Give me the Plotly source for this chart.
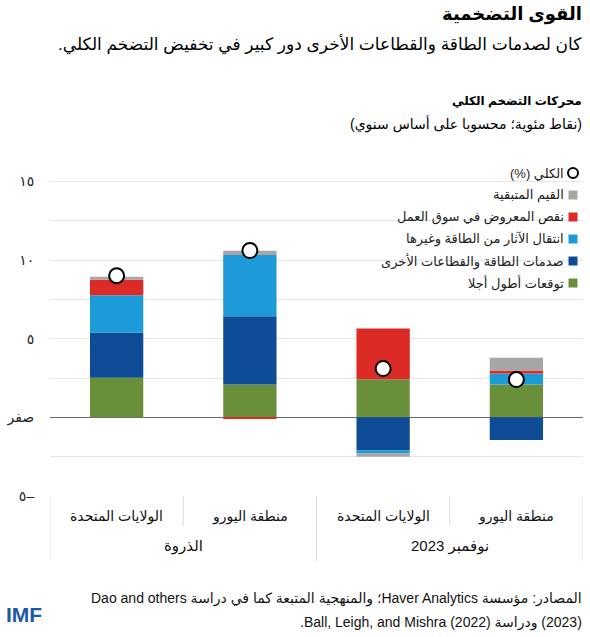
import plotly.graph_objects as go

# ---------------- data ----------------
countries = ["الولايات المتحدة", "منطقة اليورو", "الولايات المتحدة", "منطقة اليورو"]
periods = ["الذروة", "نوفمبر 2023"]
period_members = [[0, 1], [2, 3]]

series_names = [
    "توقعات أطول أجلا",
    "صدمات الطاقة والقطاعات الأخرى",
    "انتقال الآثار من الطاقة وغيرها",
    "نقص المعروض في سوق العمل",
    "القيم المتبقية",
]
longer_term_expectations = [2.52, 2.08, 2.42, 2.08]
energy_sector_shocks = [2.86, 4.34, -2.10, -1.44]
energy_pass_through = [2.38, 3.90, -0.19, 0.70]
labor_market_shortage = [0.99, -0.10, 3.22, 0.19]
residual = [0.19, 0.26, -0.21, 0.82]
headline = [9.0, 10.6, 3.1, 2.4]
headline_name = "الكلي (%)"

series_values = [longer_term_expectations, energy_sector_shocks,
                 energy_pass_through, labor_market_shortage, residual]
series_colors = ["#6a8f3b", "#0e4d96", "#1c9bd8", "#dc2a26", "#a6a6a6"]

y_tick_values = [-5, -2.5, 0, 2.5, 5, 7.5, 10, 12.5, 15]
y_tick_labels = ["٥–", "", "صفر", "", "٥", "", "١٠", "", "١٥"]

title = "القوى التضخمية"
subtitle = "كان لصدمات الطاقة والقطاعات الأخرى دور كبير في تخفيض التضخم الكلي."
chart_title = "محركات التضخم الكلي"
chart_units = "(نقاط مئوية؛ محسوبا على أساس سنوي)"
source_lines = [
    "المصادر: مؤسسة Haver Analytics؛ والمنهجية المتبعة كما في دراسة Dao and others",
    "(2023) ودراسة Ball, Leigh, and Mishra (2022).",
]

# ---------------- layout helpers ----------------
W, H = 590, 637
L, R, T, B = 50, 7, 142, 141
PW, PH = W - L - R, H - T - B
FONT = "Arial, 'Liberation Sans', 'DejaVu Sans', sans-serif"


def px(p):
    return (p - L) / PW


def py(p):
    return (H - B - p) / PH


def rtl(s):
    return "\u202b" + s + "\u202c"


x_idx = list(range(len(countries)))

fig = go.Figure()
for name, vals, col in zip(series_names, series_values, series_colors):
    fig.add_trace(go.Bar(x=x_idx, y=vals, name=name, marker=dict(color=col, line=dict(width=0)),
                         width=0.4, showlegend=False))

fig.add_trace(go.Scatter(x=x_idx, y=headline, mode="markers", name=headline_name, showlegend=False,
                         marker=dict(symbol="circle", size=15, color="white",
                                     line=dict(color="black", width=2))))

shapes = []
annotations = []

# white legend backdrop
shapes.append(dict(type="rect", xref="paper", yref="paper", x0=px(350), x1=px(590),
                   y0=py(295), y1=py(160), fillcolor="white", line=dict(width=0), layer="between"))

# legend entries (top to bottom)
legend_items = [(headline_name, None)] + list(zip(series_names, series_colors))[::-1]
for i, (name, col) in enumerate(legend_items):
    yc = 173 + i * 22
    annotations.append(dict(xref="paper", yref="paper", x=px(566), y=py(yc), text=rtl(name),
                            showarrow=False, xanchor="right", yanchor="middle",
                            font=dict(size=13, color="#222", family=FONT)))
    if col is None:
        shapes.append(dict(type="circle", xref="paper", yref="paper",
                           x0=px(568), x1=px(578), y0=py(178), y1=py(168),
                           fillcolor="white", line=dict(color="black", width=2)))
    else:
        shapes.append(dict(type="rect", xref="paper", yref="paper",
                           x0=px(568.5), x1=px(577.5), y0=py(yc + 4.5), y1=py(yc - 4.5),
                           fillcolor=col, line=dict(width=0)))

# category table under the plot
grid_col = "#d9d9d9"
for i, c in enumerate(countries):
    annotations.append(dict(xref="x", yref="paper", x=i, y=py(516), text=rtl(c), showarrow=False,
                            xanchor="center", yanchor="middle",
                            font=dict(size=14, color="#111", family=FONT)))
for g, members in zip(periods, period_members):
    annotations.append(dict(xref="x", yref="paper", x=sum(members) / len(members), y=py(546),
                            text=rtl(g), showarrow=False, xanchor="center", yanchor="middle",
                            font=dict(size=15, color="#111", family=FONT)))
# full-height dividers at group boundaries, short dividers between countries
group_edges = [members[0] - 0.5 for members in period_members] + [period_members[-1][-1] + 0.5]
for xe in group_edges:
    shapes.append(dict(type="line", xref="x", yref="paper", x0=xe, x1=xe, y0=py(496), y1=py(561),
                       line=dict(color=grid_col, width=1)))
for members in period_members:
    for a in members[:-1]:
        shapes.append(dict(type="line", xref="x", yref="paper", x0=a + 0.5, x1=a + 0.5,
                           y0=py(496), y1=py(526), line=dict(color=grid_col, width=1)))

# titles
annotations += [
    dict(xref="paper", yref="paper", x=px(584), y=py(15), text="<b>" + rtl(title) + "</b>",
         showarrow=False, xanchor="right", yanchor="middle", font=dict(size=18, color="#000", family=FONT)),
    dict(xref="paper", yref="paper", x=px(584), y=py(45), text=rtl(subtitle),
         showarrow=False, xanchor="right", yanchor="middle", font=dict(size=17, color="#000", family=FONT)),
    dict(xref="paper", yref="paper", x=px(584), y=py(101), text="<b>" + rtl(chart_title) + "</b>",
         showarrow=False, xanchor="right", yanchor="middle", font=dict(size=12, color="#000", family=FONT)),
    dict(xref="paper", yref="paper", x=px(584), y=py(124), text=rtl(chart_units),
         showarrow=False, xanchor="right", yanchor="middle", font=dict(size=14, color="#000", family=FONT)),
]
for k, line in enumerate(source_lines):
    annotations.append(dict(xref="paper", yref="paper", x=px(584), y=py(598 + 24 * k), text=rtl(line),
                            showarrow=False, xanchor="right", yanchor="middle",
                            font=dict(size=14, color="#111", family=FONT)))
annotations.append(dict(xref="paper", yref="paper", x=px(4), y=py(614), text="<b>IMF</b>",
                        showarrow=False, xanchor="left", yanchor="middle",
                        font=dict(size=21, color="#1d5aa5", family=FONT)))

fig.update_layout(
    width=W, height=H, margin=dict(l=L, r=R, t=T, b=B), autosize=False,
    barmode="relative", bargap=0.6,
    plot_bgcolor="white", paper_bgcolor="white",
    font=dict(family=FONT, color="#222"),
    xaxis=dict(range=[-0.5, 3.5], showticklabels=False, showgrid=False, zeroline=False,
               showline=False, ticks="", fixedrange=True, automargin=False),
    yaxis=dict(range=[-5, 17.5], tickvals=y_tick_values, ticktext=y_tick_labels,
               showgrid=True, gridcolor="#e6e6e6", gridwidth=1,
               zeroline=True, zerolinecolor="#6b6b6b", zerolinewidth=1,
               showline=False, ticks="outside", ticklen=12, tickcolor="rgba(0,0,0,0)",
               automargin=False, fixedrange=True,
               tickfont=dict(size=14, color="#222", family=FONT)),
    shapes=shapes, annotations=annotations, showlegend=False,
)

fig.write_html("out.html", config={"displayModeBar": False},
               post_script="document.body.style.margin='0';")
